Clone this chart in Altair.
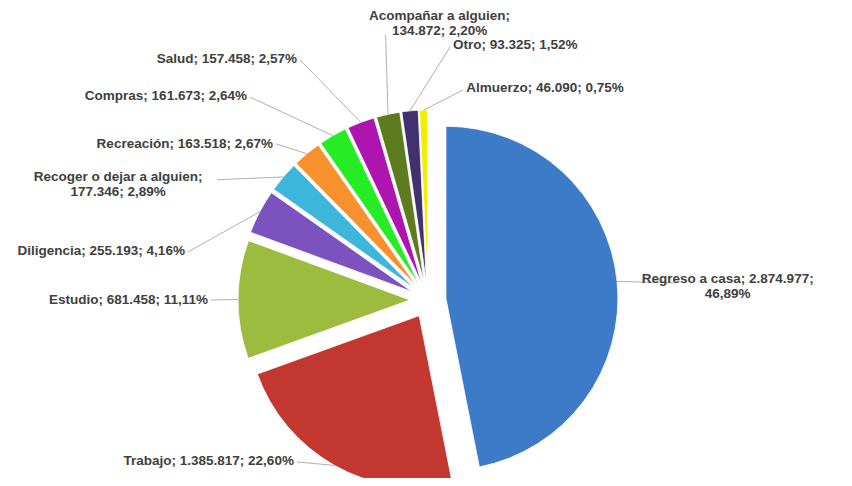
import math
import pandas as pd
import altair as alt

# ---- data ----
categories = ["Regreso a casa", "Trabajo", "Estudio", "Diligencia",
              "Recoger o dejar a alguien", "Recreación", "Compras", "Salud",
              "Acompañar a alguien", "Otro", "Almuerzo"]
values = [2874977, 1385817, 681458, 255193, 177346, 163518,
          161673, 157458, 134872, 93325, 46090]

# ---- style / layout ----
colors = ["#3D7AC8", "#C2372F", "#9DBB3E", "#7C52BE", "#3DB6DB", "#F6912E",
          "#25EC25", "#AE14AE", "#5D7B1F", "#42306F", "#F2EE00"]
W, H = 836, 470
CX, CY = 420, 292
R = 172
EXPLODE = 18
LINE_H = 15
label_angle = [87.5, 219.8, 270.0, 281.4, 290.4, 315.2, 318.4, 331.5, 2.4, 5.6, 10.2]
label_radius = [300, 209.5, 220, 248, 330.6, 220, 272.7, 274.3, 276.5, 256.2, 215.4]
label_align = ["center", "right", "right", "right", "center", "right",
               "right", "right", "center", "left", "left"]
leader_dx = [-52, 3, 3, 3, 99, 3, 3, 3, -54, -3, -3]
leader_dy = [-4, 1, 0, 1, -5, 0, 1, 1, 11, 2, 2]
label_break = ["pct", "", "", "", "name", "", "", "", "name", "", ""]

total = sum(values)
rows = []
cum = 0.0
for i, (cat, v) in enumerate(zip(categories, values)):
    f0 = cum / total
    cum += v
    f1 = cum / total
    m = math.pi * (f0 + f1)
    px = CX + EXPLODE * math.sin(m)
    py = CY - EXPLODE * math.cos(m)
    ex = px + R * math.sin(m)
    ey = py - R * math.cos(m)
    la = math.radians(label_angle[i])
    lx = CX + label_radius[i] * math.sin(la)
    ly = CY - label_radius[i] * math.cos(la)
    num = f"{v:,}".replace(",", ".")
    pct = f"{100 * v / total:.2f}".replace(".", ",") + "%"
    if label_break[i] == "pct":
        txt = f"{cat}; {num};\n{pct}"
    elif label_break[i] == "name":
        txt = f"{cat};\n{num}; {pct}"
    else:
        txt = f"{cat}; {num}; {pct}"
    nlines = txt.count("\n") + 1
    ty = ly - (nlines - 1) * LINE_H / 2
    rows.append(dict(cat=cat, value=v, f0=f0, f1=f1, px=px, py=py,
                     ex=ex, ey=ey, lx=lx, ly=ty,
                     qx=lx + leader_dx[i], qy=ly + leader_dy[i],
                     align=label_align[i], txt=txt, order=i))
df = pd.DataFrame(rows)

base = alt.Chart(df)

arcs = base.mark_arc(radius=R, stroke="white", strokeWidth=0.8).encode(
    x=alt.X("px:Q", scale=None, axis=None),
    y=alt.Y("py:Q", scale=None, axis=None),
    theta=alt.Theta("f0:Q", scale=alt.Scale(domain=[0, 1]), stack=None),
    theta2=alt.Theta2("f1:Q"),
    color=alt.Color("cat:N", scale=alt.Scale(domain=categories, range=colors), legend=None),
    order=alt.Order("order:Q"),
)

leaders = base.mark_rule(color="#B0B0B0", strokeWidth=1).encode(
    x=alt.X("ex:Q", scale=None, axis=None),
    y=alt.Y("ey:Q", scale=None, axis=None),
    x2="qx:Q",
    y2="qy:Q",
)

def text_layer(al):
    return base.transform_filter(alt.datum.align == al).mark_text(
        font="Liberation Sans", fontSize=13.5, fontWeight="bold", color="#404040",
        lineBreak="\n", lineHeight=LINE_H, baseline="middle", align=al,
    ).encode(
        x=alt.X("lx:Q", scale=None, axis=None),
        y=alt.Y("ly:Q", scale=None, axis=None),
        text="txt:N",
    )

chart = alt.layer(arcs, leaders, text_layer("left"), text_layer("right"),
                  text_layer("center")).properties(
    width=W, height=H, padding=0, autosize="none"
).configure_view(stroke=None)

chart.save("out.html", embed_options={"renderer": "svg", "actions": False})
